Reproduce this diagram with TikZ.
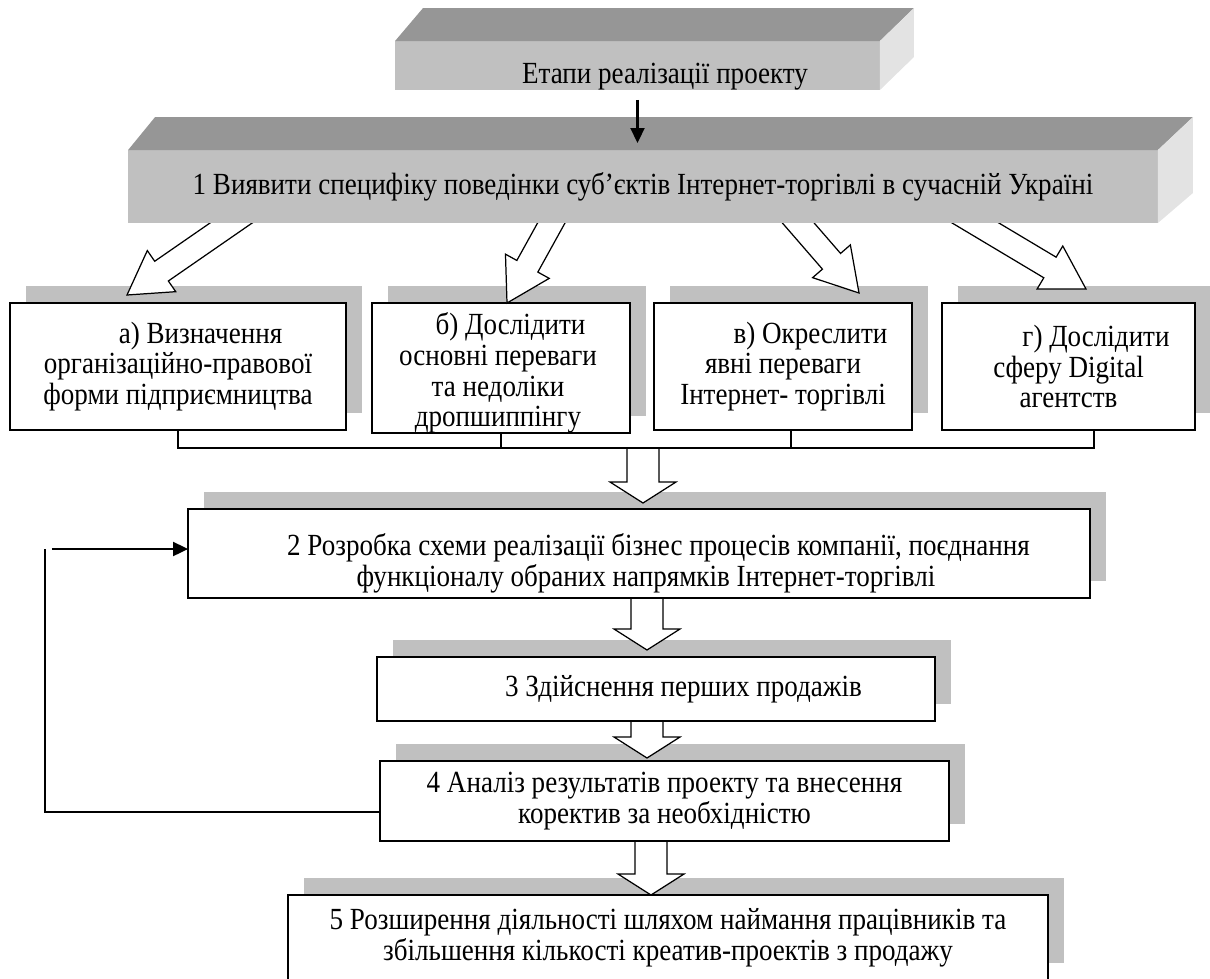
\documentclass[tikz,border=0pt]{standalone}
\usepackage{fontspec}
\setmainfont{Liberation Serif}[FakeStretch=0.88]
\usetikzlibrary{arrows.meta,calc,shadows}
\definecolor{bevtop}{HTML}{969696}
\definecolor{bevfront}{HTML}{C0C0C0}
\definecolor{bevside}{HTML}{E3E3E3}
\definecolor{boxshadow}{HTML}{C0C0C0}
\tikzset{
  >={Triangle[length=3mm,width=2.8mm]},
  % plates
  bev/.style={fill=bevfront,inner sep=0pt,outer sep=0pt,align=center},
  bevtopface/.style={fill=bevtop},
  bevsideface/.style={fill=bevside},
  txt/.style={inner sep=0pt,align=center},
  % boxes
  sbox/.style={draw=black,fill=white,line width=1pt,inner sep=0pt,outer sep=0pt,
    align=center,drop shadow={shadow xshift=3.2mm,shadow yshift=3.4mm,opacity=1,fill=boxshadow}},
  % connectors
  ln/.style={draw=black,line width=1pt},
  fat/.style={draw=black,fill=white,line width=0.7pt,line join=miter},
  fb/.style={draw=black,line width=1.1pt},
}
% hollow block arrow: from, to, half shaft, half head, head length
\newcommand{\blockarrow}[5]{%
  \coordinate (hb) at ($(#2)!#5!(#1)$);
  \draw[fat] ($(#1)!#3!90:(#2)$) -- ($(hb)!#3!90:(#2)$) -- ($(hb)!#4!90:(#2)$)
    -- (#2) -- ($(hb)!#4!-90:(#2)$) -- ($(hb)!#3!-90:(#2)$) -- ($(#1)!#3!-90:(#2)$);}

\begin{document}
\begin{tikzpicture}[x=0.02cm,y=-0.02cm,every node/.append style={font=\fontsize{17.5}{17.5}\selectfont}]
  \useasboundingbox (0,0) rectangle (1210,978);
  % sub-tasks
  \node[sbox,minimum width=6.72cm,minimum height=2.54cm] (suba) at (178,366.5)
    {\hspace*{9mm}а) Визначення\\організаційно-правової\\форми підприємництва};
  \node[sbox,minimum width=5.16cm,minimum height=2.6cm] (subb) at (501,368) {};
  \node[txt] (subb-t) at (498,373)
    {\hspace*{5mm}б) Дослідити\\основні переваги\\та недоліки\\дропшиппінгу};
  \node[sbox,minimum width=5.16cm,minimum height=2.54cm] (subc) at (783,366.5)
    {\hspace*{11mm}в) Окреслити\\явні переваги\\Інтернет- торгівлі};
  \node[sbox,minimum width=5.06cm,minimum height=2.54cm] (subd) at (1068.5,366.5)
    {\hspace*{11mm}г) Дослідити\\сферу Digital\\агентств};
  % stages
  \node[sbox,minimum width=18.04cm,minimum height=1.78cm] (s2) at (639,553.5) {};
  \node[txt] (s2-t) at (646,563)
    {\hspace*{5mm}2 Розробка схеми реалізації бізнес процесів компанії, поєднання\\функціоналу обраних напрямків Інтернет-торгівлі};
  \node[sbox,minimum width=11.16cm,minimum height=1.28cm] (s3) at (656,689)
    {\hspace*{11mm}3 Здійснення перших продажів};
  \node[sbox,minimum width=11.38cm,minimum height=1.6cm] (s4) at (664.5,801)
    {4 Аналіз результатів проекту та внесення\\коректив за необхідністю};
  \node[sbox,minimum width=15.2cm,minimum height=1.7cm] (s5) at (668,937.5)
    {5 Розширення діяльності шляхом наймання працівників та\\збільшення кількості креатив-проектів з продажу};

  \coordinate (v10) at (643,448);  \coordinate (v11) at (643,503);
  \coordinate (v20) at (647,599);  \coordinate (v21) at (647,650);
  \coordinate (v30) at (647,722);  \coordinate (v31) at (647,758);
  \coordinate (v40) at (651,842);  \coordinate (v41) at (651,895);
  \blockarrow{v10}{v11}{3.2mm}{6.6mm}{4.2mm}
  \blockarrow{v20}{v21}{3.2mm}{6.6mm}{4.2mm}
  \blockarrow{v30}{v31}{3.2mm}{6.6mm}{4.2mm}
  \blockarrow{v40}{v41}{3.2mm}{6.6mm}{4.2mm}

  \coordinate (busl) at (178,448);
  \coordinate (busr) at (1094,448);
  \draw[ln] (suba.south) -- (busl) -- (busr) -- (busr |- subd.south);
  \draw[ln] (subb.south) -- (subb.south |- busl);
  \draw[ln] ([xshift=1.6mm]subc.south) -- ([xshift=1.6mm]subc.south |- busl);

  \coordinate (fbb) at (45,812);
  \coordinate (fbt) at (45,549);
  \draw[fb] (s4.west |- fbb) -- (fbb) -- (fbt);
  \draw[fb,->] ([xshift=1.4mm]fbt) -- (fbt -| s2.west);

  \coordinate (da0) at (273,194);  \coordinate (da1) at (127,295);
  \coordinate (db0) at (569,191);  \coordinate (db1) at (507,303);
  \coordinate (dc0) at (774,195);  \coordinate (dc1) at (859,293);
  \coordinate (dd0) at (932,197);  \coordinate (dd1) at (1086,289);
  \blockarrow{da0}{da1}{2.4mm}{5mm}{8.4mm}
  \blockarrow{db0}{db1}{2.4mm}{5mm}{8.4mm}
  \blockarrow{dc0}{dc1}{2.4mm}{5mm}{8.4mm}
  \blockarrow{dd0}{dd1}{2.4mm}{5mm}{8.4mm}

  % plates
  \node[bev,minimum width=20.6cm,minimum height=1.46cm] (stage1) at (643,186.5)
    {1 Виявити специфіку поведінки суб’єктів Інтернет-торгівлі в сучасній Україні};
  \fill[bevtopface] (stage1.north west) -- ++(27,-33) -- ++(1038,0) -- (stage1.north east) -- cycle;
  \fill[bevsideface] (stage1.north east) -- ++(35,-33) -- ++(0,76) -- (stage1.south east) -- cycle;

  \node[bev,minimum width=9.7cm,minimum height=0.98cm] (title) at (637.5,65.5) {};
  \fill[bevtopface] (title.north west) -- ++(28,-33) -- ++(491,0) -- (title.north east) -- cycle;
  \fill[bevsideface] (title.north east) -- ++(34,-33) -- ++(0,49) -- (title.south east) -- cycle;
  \node[txt] (title-t) at (665,77) {Етапи реалізації проекту};

  \draw[->,line width=1.2pt] ([yshift=-2mm]title.south) -- ([yshift=1.4mm]title.south |- stage1.north);
\end{tikzpicture}
\end{document}
